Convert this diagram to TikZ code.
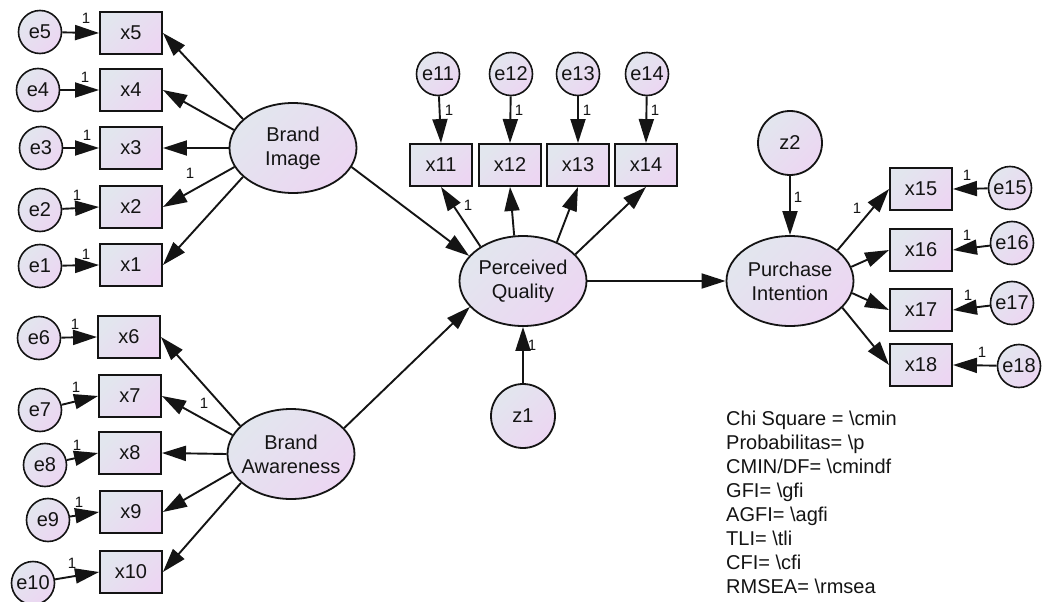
\documentclass[tikz,border=0pt]{standalone}
\usepackage{fontspec}
\setmainfont{Liberation Sans}
\usetikzlibrary{arrows.meta,shapes.geometric}
\definecolor{gradA}{RGB}{226,230,238}
\definecolor{gradB}{RGB}{236,214,242}
\definecolor{ink}{RGB}{20,20,20}
\begin{document}
\begin{tikzpicture}[x=1pt,y=-1pt,
  every node/.style={font=\fontsize{20}{24}\selectfont, text=ink},
  grad/.style={top color=gradA, bottom color=gradB, shading angle=45},
  obs/.style={grad, draw=ink, line width=1.9pt, rectangle, minimum width=62pt, minimum height=42pt, inner sep=0pt},
  err/.style={grad, draw=ink, line width=1.6pt, circle, minimum size=43pt, inner sep=0pt},
  dist/.style={grad, draw=ink, line width=1.8pt, circle, minimum size=64pt, inner sep=0pt},
  lat/.style={grad, draw=ink, line width=1.8pt, ellipse, minimum width=127pt, minimum height=90pt, inner sep=0pt},
  link/.style={draw=ink, line width=1.9pt, -{Triangle[length=24pt,width=15pt]}},
  one/.style={font=\fontsize{15}{15}\selectfont, inner sep=0pt},
  stat/.style={anchor=base west, inner sep=0pt}
]
\fill[white] (0,0) rectangle (1045,602);
\useasboundingbox (0,0) rectangle (1045,602);

% latent variables
\node[lat, label={[align=center]center:Brand\\Image}] (BI) at (293,148) {};
\node[lat, label={[align=center]center:Brand\\Awareness}] (BA) at (291,454) {};
\node[lat, label={[align=center]center:Perceived\\Quality}] (PQ) at (523,281) {};
\node[lat, label={[align=center]center:Purchase\\Intention}] (PI) at (790,281) {};

% disturbances
\node[dist] (z1) at (523,416) {z1};
\node[dist] (z2) at (790,143) {z2};

% indicators
\node[obs] (x5) at (131,33) {x5};
\node[obs] (x4) at (131,90) {x4};
\node[obs] (x3) at (131,148) {x3};
\node[obs] (x2) at (131,207) {x2};
\node[obs] (x1) at (131,265) {x1};
\node[obs] (x6) at (129,337) {x6};
\node[obs] (x7) at (130,396) {x7};
\node[obs] (x8) at (130,453) {x8};
\node[obs] (x9) at (131,512) {x9};
\node[obs] (x10) at (131,572) {x10};
\node[obs] (x11) at (441,165) {x11};
\node[obs] (x12) at (510,165) {x12};
\node[obs] (x13) at (578,165) {x13};
\node[obs] (x14) at (646,165) {x14};
\node[obs] (x15) at (921,189) {x15};
\node[obs] (x16) at (921,250) {x16};
\node[obs] (x17) at (921,310) {x17};
\node[obs] (x18) at (921,365) {x18};

% error terms
\node[err] (e5) at (40,32) {e5};
\node[err] (e4) at (38,90) {e4};
\node[err] (e3) at (41,148) {e3};
\node[err] (e2) at (40,210) {e2};
\node[err] (e1) at (40,266) {e1};
\node[err] (e6) at (39,338) {e6};
\node[err] (e7) at (40,410) {e7};
\node[err] (e8) at (45,465) {e8};
\node[err] (e9) at (48,520) {e9};
\node[err] (e10) at (33,583) {e10};
\node[err] (e11) at (438,74) {e11};
\node[err] (e12) at (511,74) {e12};
\node[err] (e13) at (578,74) {e13};
\node[err] (e14) at (647,74) {e14};
\node[err] (e15) at (1010,188) {e15};
\node[err] (e16) at (1012,243) {e16};
\node[err] (e17) at (1012,303) {e17};
\node[err] (e18) at (1019,366) {e18};

% loadings
\draw[link] (BI.150) -- (x5.east);
\draw[link] (BI.163) -- (x4.east);
\draw[link] (BI.180) -- (x3.east);
\draw[link] (BI.198) -- (x2.east);
\draw[link] (BI.210) -- (x1.east);
\draw[link] (BA.151) -- (x6.east);
\draw[link] (BA.162) -- (x7.east);
\draw[link] (BA.180) -- (x8.east);
\draw[link] (BA.197) -- (x9.east);
\draw[link] (BA.210) -- (x10.east);
\draw[link] (PQ.141) -- (x11.south);
\draw[link] (PQ.101) -- (x12.south);
\draw[link] (PQ.49) -- (x13.south);
\draw[link] (PQ.27) -- (x14.south);
\draw[link] (PI.33) -- (x15.west);
\draw[link] (PI.13) -- (x16.west);
\draw[link] (PI.-11) -- (x17.west);
\draw[link] (PI.-27) -- (x18.west);

% structural paths
\draw[link] (BI.-18) -- (PQ.155);
\draw[link] (BA.26) -- (PQ.206);
\draw[link] (PQ) -- (PI);
\draw[link] (z1) -- (PQ);
\draw[link] (z2) -- (PI);

% measurement errors
\foreach \i in {1,...,10} \draw[link] (e\i) -- (x\i.west);
\foreach \i in {11,...,14} \draw[link] (e\i) -- (x\i.north);
\foreach \i in {15,...,18} \draw[link] (e\i) -- (x\i.east);

% fixed parameters
\node[one] (f5) at (86,18) {1};
\node[one] (f4) at (85,77) {1};
\node[one] (f3) at (87,135) {1};
\node[one] (f2) at (77,195) {1};
\node[one] (f1) at (86,254) {1};
\node[one] (fbi) at (190,173) {1};
\node[one] (f6) at (75,324) {1};
\node[one] (f7) at (76,387) {1};
\node[one] (f8) at (77,445) {1};
\node[one] (f9) at (79,502) {1};
\node[one] (f10) at (72,563) {1};
\node[one] (fba) at (204,403) {1};
\node[one] (f11) at (449,110) {1};
\node[one] (f12) at (519,110) {1};
\node[one] (f13) at (587,110) {1};
\node[one] (f14) at (655,110) {1};
\node[one] (fpq) at (468,205) {1};
\node[one] (fz1) at (532,345) {1};
\node[one] (fz2) at (798,197) {1};
\node[one] (fpi) at (857,208) {1};
\node[one] (f15) at (967,175) {1};
\node[one] (f16) at (967,235) {1};
\node[one] (f17) at (968,295) {1};
\node[one] (f18) at (982,352) {1};

% fit statistics
\foreach \t [count=\i] in {Chi Square = \textbackslash cmin, Probabilitas= \textbackslash p, CMIN/DF= \textbackslash cmindf, GFI= \textbackslash gfi, AGFI= \textbackslash agfi, TLI= \textbackslash tli, CFI= \textbackslash cfi, RMSEA= \textbackslash rmsea}
  \node[stat] (fit\i) at (726,{425+24*(\i-1)}) {\t};
\end{tikzpicture}
\end{document}
